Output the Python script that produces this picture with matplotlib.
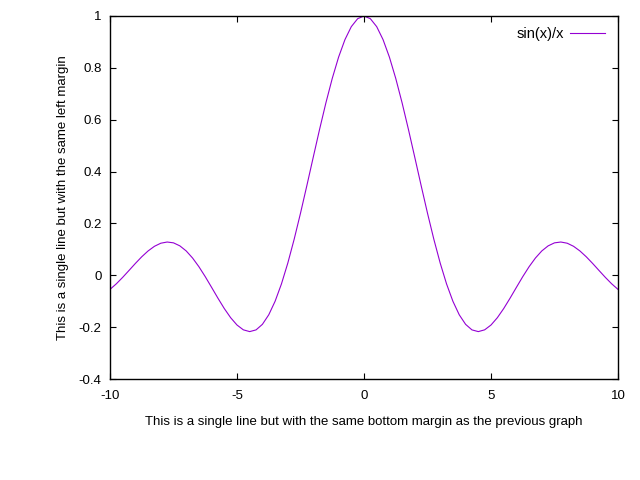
import matplotlib
matplotlib.use('Agg')
import matplotlib.pyplot as plt
import numpy as np

plt.rcParams['font.family'] = ['Liberation Sans', 'DejaVu Sans']

# sample grid and sin(x)/x values
x_vals = np.arange(-10, 10.001, 0.25)
y_half = [1.0, 0.9896, 0.9589, 0.9089, 0.8415, 0.7592, 0.6650, 0.5623, 0.4546,
          0.3458, 0.2394, 0.1388, 0.0470, -0.0333, -0.1002, -0.1524, -0.1892,
          -0.2106, -0.2172, -0.2104, -0.1918, -0.1636, -0.1283, -0.0884, -0.0466,
          -0.0053, 0.0331, 0.0667, 0.0939, 0.1135, 0.1251, 0.1283, 0.1237,
          0.1118, 0.0939, 0.0714, 0.0458, 0.0188, -0.0079, -0.0328, -0.0544]
y_vals = y_half[:0:-1] + y_half

x_ticks = [-10, -5, 0, 5, 10]
x_ticklabels = ['-10', '-5', '0', '5', '10']
y_ticks = [-0.4, -0.2, 0, 0.2, 0.4, 0.6, 0.8, 1]
y_ticklabels = ['-0.4', '-0.2', '0', '0.2', '0.4', '0.6', '0.8', '1']

fig = plt.figure(figsize=(6.4, 4.8), dpi=100)
ax = fig.add_axes([110 / 640, 1 - 379 / 480, 508 / 640, 363 / 480])

ax.plot(x_vals, y_vals, color='#9400d3', linewidth=0.8, label='sin(x)/x')

ax.set_xlim(-10, 10)
ax.set_ylim(-0.4, 1)
ax.set_xticks(x_ticks)
ax.set_xticklabels(x_ticklabels)
ax.set_yticks(y_ticks)
ax.set_yticklabels(y_ticklabels)
ax.tick_params(direction='in', length=4.3, width=0.8, top=True, right=True,
               labelsize=9.5, colors='black')
ax.tick_params(axis='x', pad=8)
ax.tick_params(axis='y', pad=6)
for sp in ax.spines.values():
    sp.set_linewidth(1.0)

ax.set_xlabel('This is a single line but with the same bottom margin as the previous graph',
              fontsize=9.5, labelpad=10)
ax.set_ylabel('This is a single line but with the same left margin',
              fontsize=9.5, labelpad=7)

ax.legend(loc='upper right', frameon=False, fontsize=10.5, handlelength=2.4,
          markerfirst=False, borderaxespad=0.35, handletextpad=0.4,
          bbox_to_anchor=(0.995, 1.0))

plt.savefig('out.png', dpi=100)
